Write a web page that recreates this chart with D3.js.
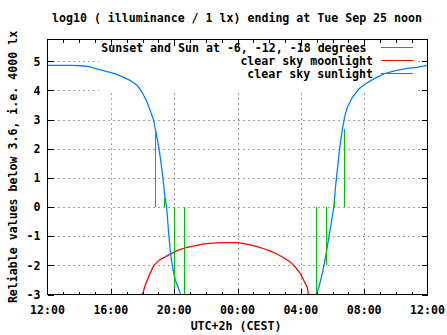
<!DOCTYPE html>
<html>
<head>
<meta charset="utf-8">
<script src="https://cdn.jsdelivr.net/npm/d3@7/dist/d3.min.js"></script>
<style>
  html, body { margin: 0; padding: 0; background: #fff; }
  svg { display: block; }
  text { font-family: "DejaVu Sans Mono", "Liberation Mono", monospace; font-weight: bold; font-size: 11.6px; fill: #000; }
</style>
</head>
<body>
<script>
// ---------- data ----------
const titleText = "log10 ( illuminance / 1 lx) ending at Tue Sep 25 noon";
const xLabelText = "UTC+2h (CEST)";
const yLabelText = "Reliable values below 3.6, i.e. 4000 lx";

// x in hours since 12:00 (Mon) up to 12:00 (Tue)
const xTickHours = [0, 4, 8, 12, 16, 20, 24];
const xTickLabels = ["12:00", "16:00", "20:00", "00:00", "04:00", "08:00", "12:00"];
const yTicks = [-3, -2, -1, 0, 1, 2, 3, 4, 5];

const legendLabels = ["Sunset and Sun at -6, -12, -18 degrees", "clear sky moonlight", "clear sky sunlight"];
const legendColors = ["#00c000", "#ff0000", "#0080ff"];

// clear sky sunlight (evening part, then morning part)
const sunEveningHours = [0, 1.6, 2.3, 2.7, 3.03, 3.77, 4.29, 4.82, 5.24, 5.67, 5.98, 6.19, 6.30, 6.68, 6.82, 7.03, 7.18, 7.31, 7.39, 7.52, 7.64, 7.77, 7.94, 8.08, 8.29, 8.48];
const sunEveningValues = [4.86, 4.86, 4.84, 4.81, 4.75, 4.65, 4.57, 4.45, 4.34, 4.17, 3.94, 3.71, 3.59, 3.02, 2.65, 2.05, 1.48, 0.91, 0.45, 0.0, -0.8, -1.6, -2.18, -2.52, -2.81, -3.15];
const sunMorningHours = [16.89, 16.93, 17.14, 17.35, 17.56, 17.77, 17.98, 18.08, 18.19, 18.30, 18.46, 18.61, 18.76, 18.93, 19.24, 19.66, 20.08, 20.61, 21.24, 21.98, 22.72, 23.35, 23.87, 24];
const sunMorningValues = [-3.15, -3.03, -2.75, -2.29, -1.72, -1.04, -0.34, 0.0, 0.68, 1.25, 2.05, 2.62, 3.08, 3.42, 3.75, 4.05, 4.23, 4.40, 4.57, 4.68, 4.76, 4.79, 4.85, 4.86];

// clear sky moonlight
const moonHours = [5.96, 6.13, 6.29, 6.51, 6.71, 7.03, 7.45, 7.88, 8.29, 8.82, 9.35, 9.87, 10.72, 11.5, 11.98, 12.19, 12.82, 13.24, 13.66, 14.08, 14.51, 14.92, 15.35, 15.66, 15.98, 16.19, 16.40, 16.52];
const moonValues = [-3.1, -2.75, -2.52, -2.24, -2.01, -1.83, -1.70, -1.58, -1.47, -1.38, -1.32, -1.26, -1.23, -1.22, -1.22, -1.24, -1.30, -1.36, -1.43, -1.51, -1.62, -1.74, -1.89, -2.06, -2.29, -2.52, -2.75, -3.1];

// sunset / sun at -6, -12, -18 degrees (and the morning counterparts)
const markerHours = [6.82, 7.35, 7.98, 8.61, 16.93, 17.60, 18.08, 18.71];
const markerFrom = [0, 0, 0, 0, 0, 0, 0, 0];
const markerTo = [2.69, 0.30, -3, -3, -3, -2.0, 0.29, 2.68];

// ---------- layout ----------
const W = 447, H = 335;
const L = 47.5, R = 427.5, T = 39.5, B = 294.5;

const svg = d3.select("body").append("svg").attr("width", W).attr("height", H);

const x = d3.scaleLinear().domain([0, 24]).range([L, R]);
const y = d3.scaleLinear().domain([-3, 5.75]).range([B, T]);

svg.append("defs").append("clipPath").attr("id", "plotclip")
  .append("rect").attr("x", L).attr("y", T).attr("width", R - L).attr("height", B - T);

// grid
const grid = svg.append("g").attr("stroke", "#a0a0a0").attr("stroke-dasharray", "2,3").attr("stroke-width", 1).attr("shape-rendering", "crispEdges");
grid.selectAll("line.h").data(yTicks.filter(v => v > -3)).enter().append("line")
  .attr("x1", L).attr("x2", R).attr("y1", d => Math.round(y(d)) + 0.5).attr("y2", d => Math.round(y(d)) + 0.5);
grid.selectAll("line.v").data(xTickHours.filter(h => h > 0 && h < 24)).enter().append("line")
  .attr("y1", B).attr("y2", T).attr("x1", d => Math.round(x(d)) + 0.5).attr("x2", d => Math.round(x(d)) + 0.5);

// legend background box (opaque)
svg.append("rect").attr("x", 99).attr("y", T + 0.5).attr("width", 319).attr("height", 53).attr("fill", "#fff");

// curves
const plot = svg.append("g").attr("clip-path", "url(#plotclip)");
const line = d3.line().x(d => x(d[0])).y(d => y(d[1]));

plot.append("path").datum(moonHours.map((h, i) => [h, moonValues[i]]))
  .attr("d", line).attr("fill", "none").attr("stroke", legendColors[1]).attr("stroke-width", 1.3);

plot.append("path").datum(sunEveningHours.map((h, i) => [h, sunEveningValues[i]]))
  .attr("d", line).attr("fill", "none").attr("stroke", legendColors[2]).attr("stroke-width", 1.3);
plot.append("path").datum(sunMorningHours.map((h, i) => [h, sunMorningValues[i]]))
  .attr("d", line).attr("fill", "none").attr("stroke", legendColors[2]).attr("stroke-width", 1.3);

plot.selectAll("line.marker").data(markerHours).enter().append("line")
  .attr("x1", d => Math.round(x(d)) + 0.5).attr("x2", d => Math.round(x(d)) + 0.5)
  .attr("y1", (d, i) => y(markerFrom[i])).attr("y2", (d, i) => y(markerTo[i]))
  .attr("stroke", legendColors[0]).attr("stroke-width", 1).attr("shape-rendering", "crispEdges");

// border + ticks
const axes = svg.append("g").attr("stroke", "#000").attr("stroke-width", 1).attr("shape-rendering", "crispEdges");
axes.append("rect").attr("x", L).attr("y", T).attr("width", R - L).attr("height", B - T).attr("fill", "none");

const hourTicks = d3.range(1, 24);
axes.selectAll("line.xt").data(hourTicks).enter().append("line")
  .attr("x1", d => Math.round(x(d)) + 0.5).attr("x2", d => Math.round(x(d)) + 0.5)
  .attr("y1", B).attr("y2", d => B - (d % 4 === 0 ? 6 : 3));
axes.selectAll("line.xtt").data(hourTicks).enter().append("line")
  .attr("x1", d => Math.round(x(d)) + 0.5).attr("x2", d => Math.round(x(d)) + 0.5)
  .attr("y1", T).attr("y2", d => T + (d % 4 === 0 ? 6 : 3));
axes.selectAll("line.yt").data(yTicks).enter().append("line")
  .attr("y1", d => Math.round(y(d)) + 0.5).attr("y2", d => Math.round(y(d)) + 0.5)
  .attr("x1", L).attr("x2", L + 6);
axes.selectAll("line.ytr").data(yTicks).enter().append("line")
  .attr("y1", d => Math.round(y(d)) + 0.5).attr("y2", d => Math.round(y(d)) + 0.5)
  .attr("x1", R).attr("x2", R - 6);

// tick labels
svg.selectAll("text.xl").data(xTickHours).enter().append("text")
  .attr("x", d => x(d)).attr("y", 313.5).attr("text-anchor", "middle")
  .text((d, i) => xTickLabels[i]);
svg.selectAll("text.yl").data(yTicks).enter().append("text")
  .attr("x", 40.5).attr("y", d => y(d) + 4.2).attr("text-anchor", "end")
  .text(d => d3.format("d")(d).replace("\u2212", "-"));

// titles
svg.append("text").attr("x", 237).attr("y", 22).attr("text-anchor", "middle").text(titleText);
svg.append("text").attr("x", 236).attr("y", 330).attr("text-anchor", "middle").text(xLabelText);
svg.append("text").attr("transform", "translate(16.5," + ((T + B) / 2) + ") rotate(-90)")
  .attr("text-anchor", "middle").text(yLabelText);

// legend
const legendY = [47.5, 60.5, 73.5];
const legendTextRight = [366.5, 373, 373];
legendLabels.forEach((lab, i) => {
  svg.append("text").attr("x", legendTextRight[i]).attr("y", legendY[i] + 4.2)
    .attr("text-anchor", "end").text(lab);
  svg.append("line").attr("x1", 381).attr("x2", 413)
    .attr("y1", legendY[i]).attr("y2", legendY[i])
    .attr("stroke", legendColors[i]).attr("stroke-width", 1.3).attr("shape-rendering", "crispEdges");
});
</script>
</body>
</html>
